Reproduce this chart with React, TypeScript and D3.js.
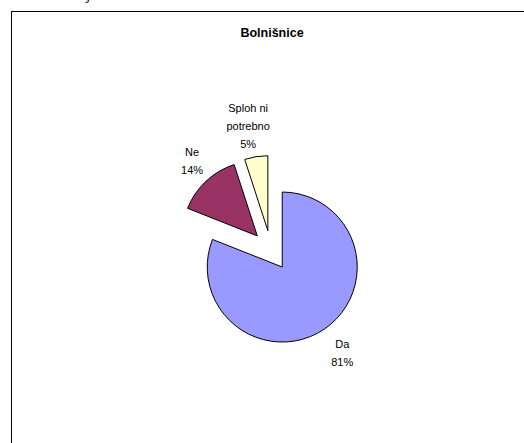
import React from "react";
import * as d3 from "d3";

const categories = ["Da", "Ne", "Sploh ni potrebno"];
const values = [81, 14, 5];
const labelLines = [["Da", "81%"], ["Ne", "14%"], ["Sploh ni", "potrebno", "5%"]];
const colors = ["#9999FF", "#993366", "#FFFFCC"];
const title = "Bolnišnice";

const W = 524;
const H = 443;
const cx = 271;
const cy = 250.5;
const R = 75;
const explode = 20;
const labelDist = [125, 119, 127];
const labelNudge = [[1, -1], [2.5, -3], [-3, 1]];
const lineH = 18;

export default function App() {
  const pie = d3.pie<number>().sort(null).value((d) => d).startAngle(0).endAngle(2 * Math.PI);
  const arcs = pie(values);
  const arc = d3.arc<d3.PieArcDatum<number>>().innerRadius(0).outerRadius(R);

  return (
    <div style={{ position: "fixed", left: 0, top: 0 }}>
      <svg width={W} height={H} style={{ display: "block", background: "#fff" }}>
        <rect x={0} y={0} width={W} height={H} fill="#fff" />
        <text x={86} y={-1} fontFamily="Liberation Serif, serif" fontSize={16} fill="#000">j</text>
        <rect x={11.5} y={11.5} width={600} height={600} fill="#fff" stroke="#000" strokeWidth={1} />
        <text x={272} y={36.5} textAnchor="middle" fontFamily="Liberation Sans, Arial, sans-serif" fontWeight="bold" fontSize={12.5} fill="#000">
          {title}
        </text>
        {arcs.map((a, i) => {
          const mid = (a.startAngle + a.endAngle) / 2;
          const dx = explode * Math.sin(mid);
          const dy = -explode * Math.cos(mid);
          return (
            <path
              key={categories[i]}
              d={arc(a) || ""}
              transform={`translate(${cx + dx},${cy + dy})`}
              fill={colors[i]}
              stroke="#000"
              strokeWidth={1}
              strokeLinejoin="round"
            />
          );
        })}
        {arcs.map((a, i) => {
          const mid = (a.startAngle + a.endAngle) / 2;
          const lx = cx + labelDist[i] * Math.sin(mid) + labelNudge[i][0];
          const ly = cy - labelDist[i] * Math.cos(mid) + labelNudge[i][1];
          const lines = labelLines[i];
          const y0 = ly - ((lines.length - 1) * lineH) / 2;
          return (
            <text
              key={"l" + i}
              textAnchor="middle"
              fontFamily="Liberation Sans, Arial, sans-serif"
              fontSize={11}
              fill="#000"
            >
              {lines.map((t, j) => (
                <tspan key={j} x={lx} y={y0 + j * lineH + 4}>
                  {t}
                </tspan>
              ))}
            </text>
          );
        })}
      </svg>
    </div>
  );
}
